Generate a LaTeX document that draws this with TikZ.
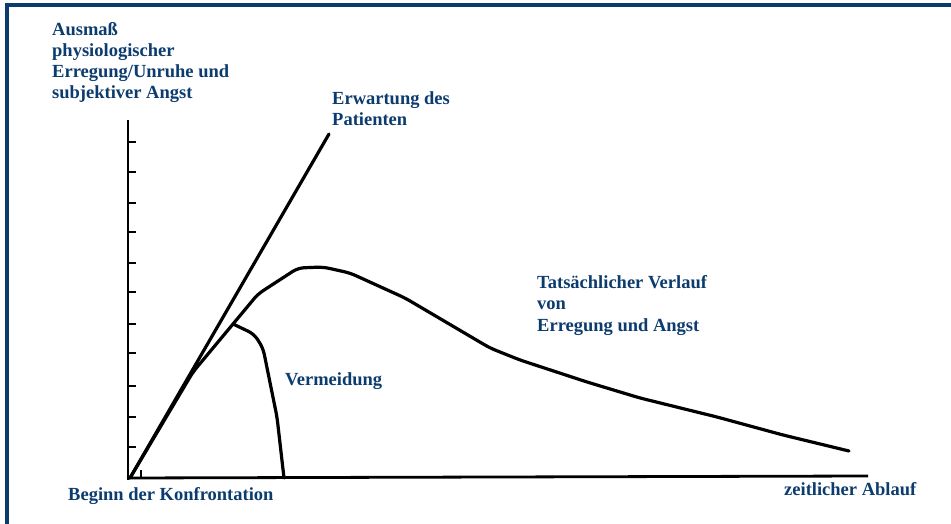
\documentclass[tikz,border=0pt]{standalone}
\usepackage{fontspec}
\setmainfont{Liberation Serif}
\definecolor{navy}{RGB}{12,60,110}
\begin{document}
\begin{tikzpicture}[x=1pt,y=-1pt,
  lbl/.style={anchor=base west, inner sep=0pt, text=navy, font=\bfseries\fontsize{18.5}{21.3}\selectfont, align=left},
  curve/.style={line width=3.2pt, line join=round, line cap=round, rounded corners=6pt},
  ax/.style={line width=2.8pt},
  tick/.style={line width=2pt}]
\useasboundingbox (0,0) rectangle (951,524);
% frame (top and left only)
\fill[navy] (5,3.5) rectangle (951,7.5);
\fill[navy] (5,3.5) rectangle (8.5,524);
% axes
\coordinate (O) at (130,478);
\coordinate (Ytop) at (128,120);
\coordinate (Ybot) at (128,479.5);
\coordinate (Xbeg) at (127,478);
\coordinate (Xend) at (868,476);
\draw[ax] (Ytop) -- (Ybot);
\draw[ax] (Xbeg) -- (Xend);
\foreach \t in {142,172,203,232,263,292,324,353,386,417,447}
  \draw[tick] (128,\t) -- (136,\t);
\coordinate (s1) at (141,470);
\coordinate (s2) at (141,478);
\draw[tick] (s1) -- (s2);
% expectation
\coordinate (E) at (329,134);
\draw[curve] (O) -- (E);
% actual course
\coordinate (B) at (233,324);
\draw[curve] (O) -- (193,372) -- (B) -- (258,294) -- (298,268) -- (323,267) -- (350,273)
  -- (405,298) -- (490,348) -- (520,360) -- (587,382) -- (640,398) -- (717,417)
  -- (783,435) -- (849,451);
% avoidance
\coordinate (V) at (284,478);
\draw[curve] (B) -- (254,334) -- (263,348) -- (277,417) -- (V);
% labels (multi-line nodes: base = last line)
\node[lbl] (ylab) at (52,99) {Ausmaß\\physiologischer\\Erregung/Unruhe und\\subjektiver Angst};
\node[lbl] (elab) at (332,125.5) {Erwartung des\\Patienten};
\node[lbl] (alab) at (537,331) {Tatsächlicher Verlauf\\von\\Erregung und Angst};
\node[lbl] (vlab) at (285,385) {Vermeidung};
\node[lbl] (blab) at (68,500) {Beginn der Konfrontation};
\node[lbl] (zlab) at (784,495) {zeitlicher Ablauf};
\end{tikzpicture}
\end{document}
